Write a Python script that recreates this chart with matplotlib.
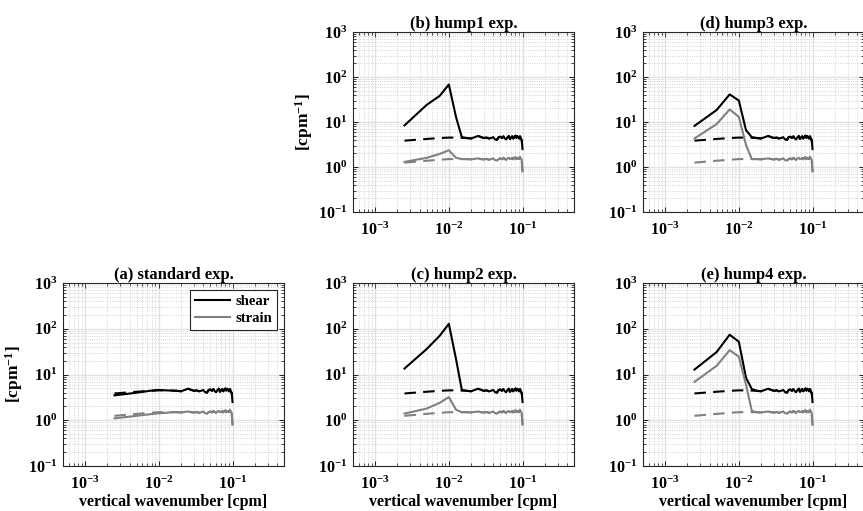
import numpy as np
import matplotlib
matplotlib.use("Agg")
import matplotlib.pyplot as plt
from matplotlib.ticker import LogLocator, LogFormatterMathtext, NullFormatter

plt.rcParams['font.family'] = ['Liberation Serif', 'DejaVu Serif']
plt.rcParams['font.weight'] = 'bold'
plt.rcParams['mathtext.fontset'] = 'custom'
plt.rcParams['mathtext.rm'] = 'Liberation Serif:bold'
plt.rcParams['mathtext.bf'] = 'Liberation Serif:bold'
plt.rcParams['mathtext.it'] = 'Liberation Serif:bold'

# vertical wavenumber [cpm]: n/400, n = 1..40
wavenumber = [n / 400 for n in range(1, 41)]

# common high-wavenumber tail (n = 7..40)
shear_tail = [4.4, 4.3, 4.6, 4.9, 4.6, 4.4, 4.5, 4.3, 4.4, 4.6, 4.1, 4.0, 4.6, 4.7,
              4.4, 4.8, 4.3, 4.1, 4.6, 4.9, 4.2, 4.5, 4.8, 4.3, 4.7, 5.0, 4.4, 4.9,
              4.6, 4.3, 4.8, 4.2, 4.0, 2.5]
strain_tail = [1.5, 1.48, 1.52, 1.55, 1.5, 1.47, 1.52, 1.45, 1.5, 1.55, 1.42, 1.4, 1.5,
               1.55, 1.48, 1.6, 1.5, 1.45, 1.55, 1.6, 1.5, 1.52, 1.6, 1.48, 1.58, 1.65,
               1.5, 1.6, 1.55, 1.5, 1.7, 1.55, 1.45, 0.8]

# reference (dashed) heads, n = 1..6
ref_shear_head = [3.85, 4.2, 4.4, 4.5, 4.5, 4.45]
ref_strain_head = [1.25, 1.38, 1.45, 1.5, 1.5, 1.5]

# experiment heads, n = 1..6
standard_shear_head = [3.5, 4.0, 4.4, 4.6, 4.5, 4.45]
standard_strain_head = [1.1, 1.25, 1.35, 1.42, 1.45, 1.5]
hump1_shear_head = [8.4, 24, 38, 68, 13, 4.6]
hump1_strain_head = [1.3, 1.6, 1.95, 2.35, 1.6, 1.5]
hump2_shear_head = [13.5, 36, 70, 128, 22, 4.6]
hump2_strain_head = [1.4, 1.8, 2.4, 3.2, 1.7, 1.5]
hump3_shear_head = [8.2, 18.5, 41, 30, 6.6, 4.6]
hump3_strain_head = [4.3, 9, 19, 13, 3.1, 1.5]
hump4_shear_head = [12.8, 31, 74, 52, 8.5, 4.8]
hump4_strain_head = [6.9, 15.5, 34, 24.5, 6.0, 1.6]

titles = ['(a) standard exp.', '(b) hump1 exp.', '(c) hump2 exp.',
          '(d) hump3 exp.', '(e) hump4 exp.']
legend_labels = ['shear', 'strain']

experiments = [
    (standard_shear_head, standard_strain_head),
    (hump1_shear_head, hump1_strain_head),
    (hump2_shear_head, hump2_strain_head),
    (hump3_shear_head, hump3_strain_head),
    (hump4_shear_head, hump4_strain_head),
]

W, H = 863, 511
fig = plt.figure(figsize=(W / 100, H / 100), dpi=100)

def rect(l, t, r, b):
    return [l / W, 1 - b / H, (r - l) / W, (b - t) / H]

positions = [
    rect(63, 283, 284, 466),   # a
    rect(353, 32, 574, 212),   # b
    rect(353, 283, 574, 466),  # c
    rect(643, 32, 864, 212),   # d
    rect(643, 283, 864, 466),  # e
]

GRAY = (0.5, 0.5, 0.5)
ref_shear = ref_shear_head + shear_tail
ref_strain = ref_strain_head + strain_tail

for i, (pos, title, (sh, st)) in enumerate(zip(positions, titles, experiments)):
    ax = fig.add_axes(pos)
    ax.set_xscale('log')
    ax.set_yscale('log')
    ax.plot(wavenumber, ref_shear, color='black', lw=1.5, ls=(0, (5.5, 3.5)))
    ax.plot(wavenumber, ref_strain, color=GRAY, lw=1.5, ls=(0, (5.5, 3.5)))
    l1, = ax.plot(wavenumber, sh + shear_tail, color='black', lw=1.5)
    l2, = ax.plot(wavenumber, st + strain_tail, color=GRAY, lw=1.5)
    ax.set_xlim(5e-4, 0.5)
    ax.set_ylim(0.1, 1000)
    ax.xaxis.set_minor_locator(LogLocator(base=10, subs=np.arange(2, 10), numticks=20))
    ax.yaxis.set_minor_locator(LogLocator(base=10, subs=np.arange(2, 10), numticks=20))
    ax.xaxis.set_major_formatter(LogFormatterMathtext())
    ax.yaxis.set_major_formatter(LogFormatterMathtext())
    ax.xaxis.set_minor_formatter(NullFormatter())
    ax.yaxis.set_minor_formatter(NullFormatter())
    ax.set_xticks([1e-3, 1e-2, 1e-1])
    ax.set_yticks([1e-1, 1, 10, 100, 1000])
    ax.grid(True, which='major', color='#e2e2e2', lw=1.0, ls='-')
    ax.grid(True, which='minor', color='#c8c8c8', lw=0.6, ls=':')
    ax.set_axisbelow(True)
    ax.tick_params(which='both', direction='in', top=True, right=True, labelsize=11.5)
    ax.tick_params(axis='x', which='major', pad=7)
    ax.tick_params(axis='y', which='major', pad=4)
    ax.tick_params(which='major', length=3.5, width=0.6)
    ax.tick_params(which='minor', length=2, width=0.5)
    for s in ax.spines.values():
        s.set_linewidth(0.8)
        s.set_color('#262626')
    ax.set_title(title, fontsize=12, fontweight='bold', pad=3)
    if i in (0, 1):
        ax.set_ylabel('[cpm$^{-1}$]', fontsize=12.5, fontweight='bold', labelpad=2)
    if i in (0, 2, 4):
        ax.set_xlabel('vertical wavenumber [cpm]', fontsize=11.5, fontweight='bold', labelpad=1)
    if i == 0:
        leg = ax.legend([l1, l2], legend_labels, loc='upper right', fontsize=10.5,
                        frameon=True, fancybox=False, edgecolor='#262626',
                        handlelength=2.4, borderpad=0.35, labelspacing=0.25,
                        handletextpad=0.4, borderaxespad=0.45)
        leg.get_frame().set_linewidth(0.8)
        leg.get_frame().set_facecolor('white')
        leg.get_frame().set_alpha(1)

fig.savefig('out.png', dpi=100)
